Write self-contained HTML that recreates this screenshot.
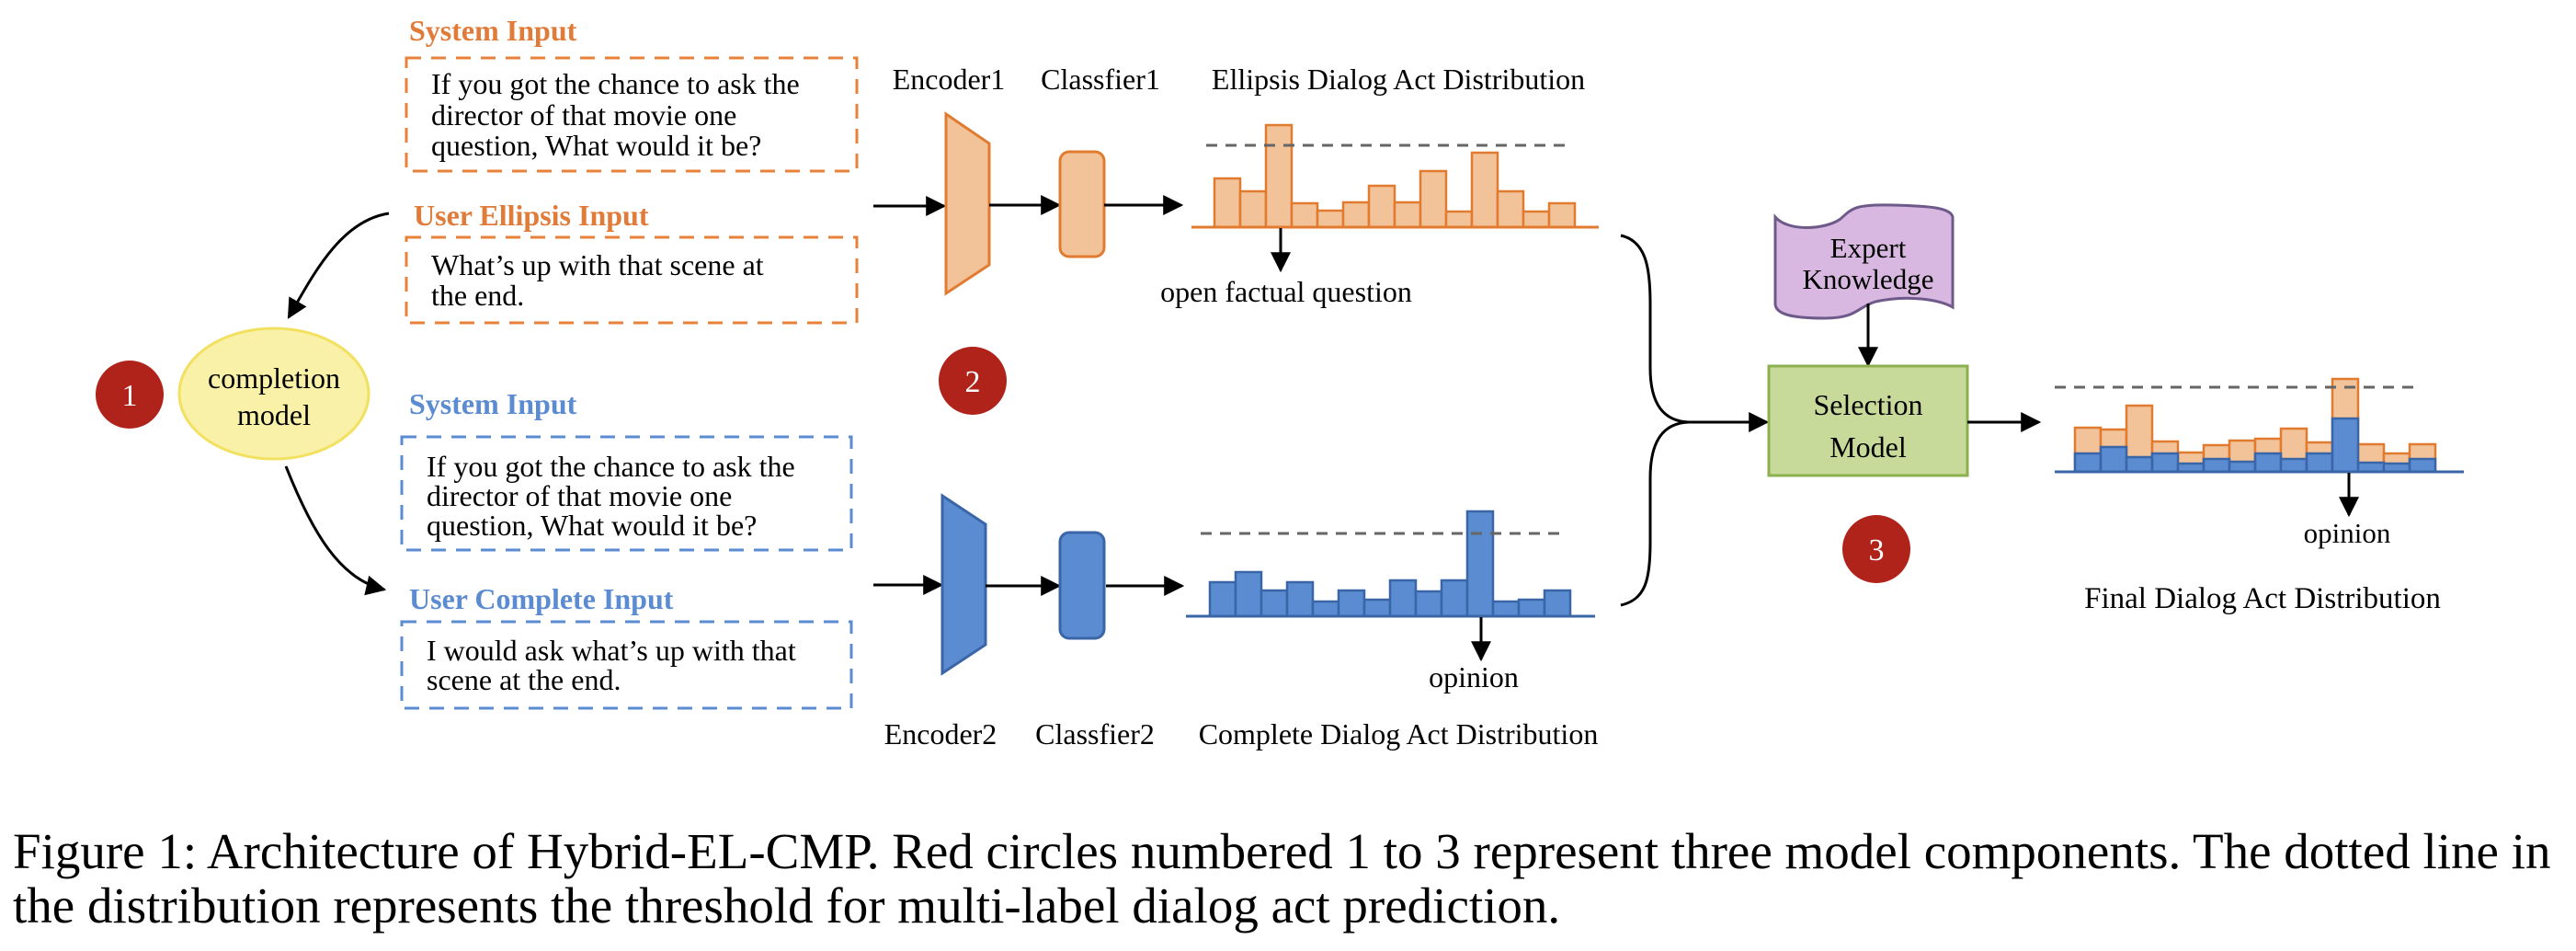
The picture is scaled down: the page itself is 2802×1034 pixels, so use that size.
<!DOCTYPE html>
<html><head><meta charset="utf-8"><style>
html,body{margin:0;padding:0;background:#fff;}
svg{display:block;}
text{font-family:"Liberation Serif",serif;}
</style></head><body>
<svg width="2802" height="1034" viewBox="0 0 2802 1034" xmlns="http://www.w3.org/2000/svg">
<defs>
<marker id="ahb" viewBox="0 0 10 10" markerWidth="22" markerHeight="22" refX="9" refY="5" orient="auto" markerUnits="userSpaceOnUse">
<path d="M0,0 L10,5 L0,10 Z" fill="#000"/></marker>
</defs>

<g font-size="32">
<text x="445" y="44" fill="#e07b39" font-weight="bold">System Input</text>
<rect x="442" y="63" width="490" height="123" fill="none" stroke="#e8823a" stroke-width="3" stroke-dasharray="16,11"/>
<text x="469" y="102">If you got the chance to ask the</text>
<text x="469" y="136">director of that movie one</text>
<text x="469" y="169">question, What would it be?</text>

<text x="450" y="245" fill="#e07b39" font-weight="bold">User Ellipsis Input</text>
<rect x="442" y="258" width="490" height="93" fill="none" stroke="#e8823a" stroke-width="3" stroke-dasharray="16,11"/>
<text x="469" y="299">What’s up with that scene at</text>
<text x="469" y="332">the end.</text>

<text x="445" y="450" fill="#5b8bd0" font-weight="bold">System Input</text>
<rect x="437" y="475" width="489" height="123" fill="none" stroke="#5b8bd0" stroke-width="3" stroke-dasharray="16,11"/>
<text x="464" y="518">If you got the chance to ask the</text>
<text x="464" y="550">director of that movie one</text>
<text x="464" y="582">question, What would it be?</text>

<text x="445" y="662" fill="#5b8bd0" font-weight="bold">User Complete Input</text>
<rect x="437" y="676" width="489" height="94" fill="none" stroke="#5b8bd0" stroke-width="3" stroke-dasharray="16,11"/>
<text x="464" y="718">I would ask what’s up with that</text>
<text x="464" y="750">scene at the end.</text>
</g>

<circle cx="141" cy="429" r="37" fill="#b0231b"/>
<text x="141" y="441" font-size="34" fill="#fff" text-anchor="middle">1</text>
<ellipse cx="298" cy="428" rx="103" ry="71" fill="#faf1a8" stroke="#f2e060" stroke-width="3"/>
<text x="298" y="422" font-size="32" text-anchor="middle">completion</text>
<text x="298" y="462" font-size="32" text-anchor="middle">model</text>
<path d="M423,232 C370,240 340,300 314,345" fill="none" stroke="#000" stroke-width="3" marker-end="url(#ahb)"/>
<path d="M311,507 C340,580 370,630 418,641" fill="none" stroke="#000" stroke-width="3" marker-end="url(#ahb)"/>

<g font-size="32" text-anchor="middle">
<text x="1032" y="97">Encoder1</text>
<text x="1197" y="97">Classfier1</text>
<text x="1521" y="97">Ellipsis Dialog Act Distribution</text>
<text x="1023" y="809">Encoder2</text>
<text x="1191" y="809">Classfier2</text>
<text x="1521" y="809">Complete Dialog Act Distribution</text>
</g>
<line x1="950" y1="224" x2="1027" y2="224" stroke="#000" stroke-width="3" marker-end="url(#ahb)"/>
<path d="M1029,124 L1076,156 L1076,288 L1029,319 Z" fill="#f2c299" stroke="#e07b30" stroke-width="3"/>
<line x1="1076" y1="223" x2="1152" y2="223" stroke="#000" stroke-width="3" marker-end="url(#ahb)"/>
<rect x="1153" y="165" width="48" height="114" rx="10" fill="#f2c299" stroke="#e07b30" stroke-width="3"/>
<line x1="1201" y1="223" x2="1285" y2="223" stroke="#000" stroke-width="3" marker-end="url(#ahb)"/>

<g fill="#f2c299" stroke="#e07b30" stroke-width="2.5">
<rect x="1321" y="194" width="28" height="53"/>
<rect x="1349" y="208" width="28" height="39"/>
<rect x="1377" y="136" width="28" height="111"/>
<rect x="1405" y="221" width="28" height="26"/>
<rect x="1433" y="229" width="28" height="18"/>
<rect x="1461" y="220" width="28" height="27"/>
<rect x="1489" y="202" width="28" height="45"/>
<rect x="1517" y="220" width="28" height="27"/>
<rect x="1545" y="186" width="28" height="61"/>
<rect x="1573" y="230" width="28" height="17"/>
<rect x="1601" y="166" width="28" height="81"/>
<rect x="1629" y="208" width="28" height="39"/>
<rect x="1657" y="230" width="28" height="17"/>
<rect x="1685" y="221" width="28" height="26"/>
</g>
<line x1="1296" y1="247" x2="1739" y2="247" stroke="#e07b30" stroke-width="3"/>
<line x1="1312" y1="158" x2="1705" y2="158" stroke="#666" stroke-width="3" stroke-dasharray="12,9"/>
<line x1="1393" y1="248" x2="1393" y2="294" stroke="#000" stroke-width="3" marker-end="url(#ahb)"/>
<text x="1399" y="328" font-size="32" text-anchor="middle">open factual question</text>

<circle cx="1058" cy="414" r="37" fill="#b0231b"/>
<text x="1058" y="426" font-size="34" fill="#fff" text-anchor="middle">2</text>

<line x1="950" y1="636" x2="1024" y2="636" stroke="#000" stroke-width="3" marker-end="url(#ahb)"/>
<path d="M1025,539 L1072,570 L1072,701 L1025,732 Z" fill="#5b8bd1" stroke="#3a66a8" stroke-width="3"/>
<line x1="1072" y1="637" x2="1152" y2="637" stroke="#000" stroke-width="3" marker-end="url(#ahb)"/>
<rect x="1153" y="579" width="48" height="115" rx="10" fill="#5b8bd1" stroke="#3a66a8" stroke-width="3"/>
<line x1="1203" y1="637" x2="1286" y2="637" stroke="#000" stroke-width="3" marker-end="url(#ahb)"/>
<g fill="#5b8bd1" stroke="#3a66a8" stroke-width="2.5">
<rect x="1316" y="633" width="28" height="37"/>
<rect x="1344" y="622" width="28" height="48"/>
<rect x="1372" y="642" width="28" height="28"/>
<rect x="1400" y="633" width="28" height="37"/>
<rect x="1428" y="654" width="28" height="16"/>
<rect x="1456" y="642" width="28" height="28"/>
<rect x="1484" y="652" width="28" height="18"/>
<rect x="1512" y="631" width="28" height="39"/>
<rect x="1540" y="643" width="28" height="27"/>
<rect x="1568" y="631" width="28" height="39"/>
<rect x="1596" y="556" width="28" height="114"/>
<rect x="1624" y="654" width="28" height="16"/>
<rect x="1652" y="652" width="28" height="18"/>
<rect x="1680" y="642" width="28" height="28"/>
</g>
<line x1="1290" y1="670" x2="1735" y2="670" stroke="#3a66a8" stroke-width="3"/>
<line x1="1306" y1="580" x2="1700" y2="580" stroke="#666" stroke-width="3" stroke-dasharray="12,9"/>
<line x1="1611" y1="671" x2="1611" y2="717" stroke="#000" stroke-width="3" marker-end="url(#ahb)"/>
<text x="1603" y="747" font-size="32" text-anchor="middle">opinion</text>

<path d="M1763,256 C1790,262 1795,290 1795,330 L1795,400 C1795,440 1810,458 1837,459 C1810,460 1795,478 1795,520 L1795,590 C1795,630 1790,652 1763,658" fill="none" stroke="#000" stroke-width="3"/>
<line x1="1837" y1="459" x2="1922" y2="459" stroke="#000" stroke-width="3" marker-end="url(#ahb)"/>

<path d="M1931,236 C1945,252 1985,250 2002,238 C2015,226 2018,222 2060,223 C2100,224 2122,226 2124,236 L2124,334 C2110,326 2075,320 2040,328 C2020,334 2020,346 1985,346 C1950,346 1931,342 1931,330 Z" fill="#d8b8e0" stroke="#6e5a8a" stroke-width="3"/>
<text x="2032" y="280" font-size="31" text-anchor="middle">Expert</text>
<text x="2032" y="314" font-size="31" text-anchor="middle">Knowledge</text>
<line x1="2032" y1="330" x2="2032" y2="397" stroke="#000" stroke-width="3" marker-end="url(#ahb)"/>

<rect x="1924" y="398" width="216" height="119" fill="#c8da9a" stroke="#8caf4f" stroke-width="3"/>
<text x="2032" y="451" font-size="32" text-anchor="middle">Selection</text>
<text x="2032" y="497" font-size="32" text-anchor="middle">Model</text>
<line x1="2140" y1="459" x2="2218" y2="459" stroke="#000" stroke-width="3" marker-end="url(#ahb)"/>

<circle cx="2041" cy="597" r="37" fill="#b0231b"/>
<text x="2041" y="609" font-size="34" fill="#fff" text-anchor="middle">3</text>

<g stroke-width="2.5">
<g fill="#f2c299" stroke="#e07b30">
<rect x="2257" y="465" width="28" height="48"/>
<rect x="2285" y="467" width="28" height="46"/>
<rect x="2313" y="441" width="28" height="72"/>
<rect x="2341" y="480" width="28" height="33"/>
<rect x="2369" y="492" width="28" height="21"/>
<rect x="2397" y="484" width="28" height="29"/>
<rect x="2425" y="479" width="28" height="34"/>
<rect x="2453" y="477" width="28" height="36"/>
<rect x="2481" y="466" width="28" height="47"/>
<rect x="2509" y="481" width="28" height="32"/>
<rect x="2537" y="412" width="28" height="101"/>
<rect x="2565" y="483" width="28" height="30"/>
<rect x="2593" y="493" width="28" height="20"/>
<rect x="2621" y="483" width="28" height="30"/>
</g>
<g fill="#5b8bd1" stroke="#3a66a8">
<rect x="2257" y="493" width="28" height="20"/>
<rect x="2285" y="486" width="28" height="27"/>
<rect x="2313" y="497" width="28" height="16"/>
<rect x="2341" y="493" width="28" height="20"/>
<rect x="2369" y="504" width="28" height="9"/>
<rect x="2397" y="499" width="28" height="14"/>
<rect x="2425" y="502" width="28" height="11"/>
<rect x="2453" y="493" width="28" height="20"/>
<rect x="2481" y="499" width="28" height="14"/>
<rect x="2509" y="493" width="28" height="20"/>
<rect x="2537" y="455" width="28" height="58"/>
<rect x="2565" y="503" width="28" height="10"/>
<rect x="2593" y="504" width="28" height="9"/>
<rect x="2621" y="499" width="28" height="14"/>
</g>
</g>
<line x1="2235" y1="513" x2="2680" y2="513" stroke="#3a66a8" stroke-width="3"/>
<line x1="2235" y1="421" x2="2629" y2="421" stroke="#666" stroke-width="3" stroke-dasharray="12,9"/>
<line x1="2555" y1="514" x2="2555" y2="560" stroke="#000" stroke-width="3" marker-end="url(#ahb)"/>
<text x="2553" y="590" font-size="31" text-anchor="middle">opinion</text>
<text x="2461" y="661" font-size="33" text-anchor="middle">Final Dialog Act Distribution</text>

<text x="14" y="944" font-size="55">Figure 1: Architecture of Hybrid-EL-CMP. Red circles numbered 1 to 3 represent three model components. The dotted line in</text>
<text x="14" y="1003" font-size="55">the distribution represents the threshold for multi-label dialog act prediction.</text>
</svg>
</body></html>
